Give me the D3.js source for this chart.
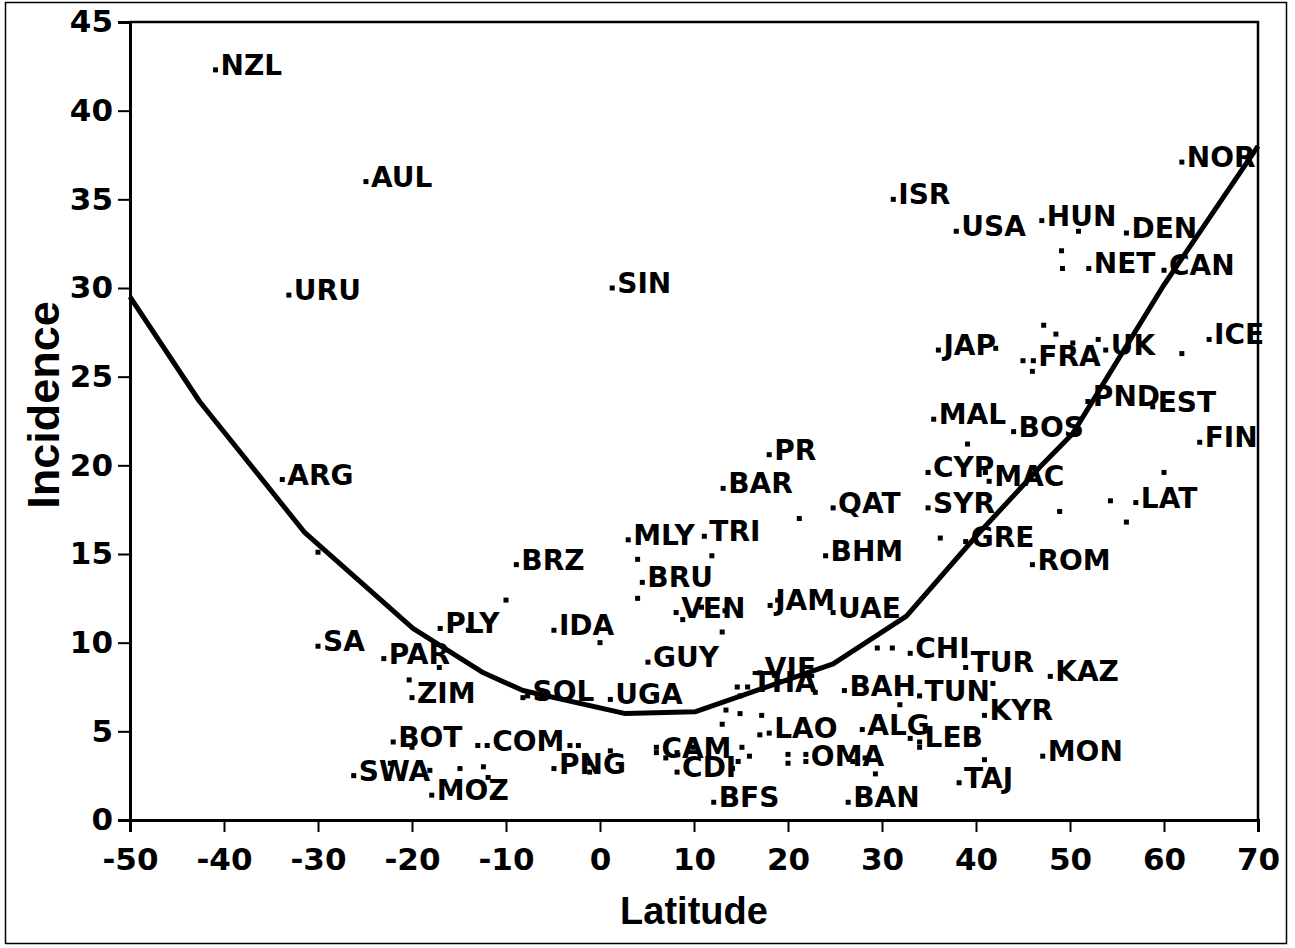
<!DOCTYPE html>
<html>
<head>
<meta charset="utf-8">
<script src="https://cdn.jsdelivr.net/npm/d3@7"></script>
<style>
  body { margin: 0; background: #fff; }
  text { font-weight: bold; fill: #000; }
</style>
</head>
<body>
<div id="chart"></div>
<script>
// country codes, "" for points without a label
const countries = [
  "NZL","AUL","URU","SIN","ARG","NOR","ISR","USA","HUN","DEN","NET","CAN","ICE","JAP","FRA","UK",
  "PND","EST","MAL","BOS","FIN","PR","CYP","MAC","BAR","QAT","SYR","LAT","MLY","TRI","GRE","BHM",
  "ROM","BRZ","BRU","JAM","VEN","UAE","PLY","IDA","SA","CHI","PAR","GUY","TUR","VIE","KAZ","THA",
  "BAH","TUN","SOL","ZIM","UGA","KYR","ALG","LAO","LEB","BOT","COM","CAM","MON","OMA","PNG","CDI",
  "SWA","TAJ","MOZ","BFS","BAN",
  "","","","","","","","","","","","","","","","","","","","","","","","","","","","","","","","","","","",
  "","","","","","","","","","","","","","","","","","","","","","","","","","","","","","","","","","","","","",""
]
const latitude = [
  -40.9,-24.9,-33.1,1.3,-33.8,61.9,31.2,37.9,47.0,56.0,52.0,60.0,64.8,36.0,46.1,53.8,
  51.9,58.8,35.5,44.0,63.8,18.0,34.9,41.4,13.1,24.8,34.9,57.0,3.0,11.1,38.9,24.0,
  46.0,-8.9,4.5,18.1,8.1,24.8,-17.0,-4.9,-30.0,33.0,-23.0,5.1,38.9,17.0,47.9,15.7,
  26.0,34.0,-7.7,-20.0,1.1,40.9,27.9,18.0,34.0,-22.0,-12.0,6.0,47.1,21.9,-4.9,8.2,
  -26.2,38.2,-17.9,12.1,26.4,
  -30.0,50.9,49.1,49.2,42.1,47.2,48.5,45.0,46.0,50.3,53.0,61.9,39.1,41.0,60.0,54.3,48.9,56.0,36.2,
  21.2,4.0,11.9,-10.0,4.0,8.8,10.8,13.3,13.0,0.0,18.9,29.5,31.1,-14.0,-17.1,-20.3,-8.2,14.6,14.9,
  22.9,13.4,14.9,17.2,13.0,17.0,31.9,41.8,33.0,34.0,40.9,-20.0,-13.0,-3.2,-2.3,-22.3,-18.1,-14.9,
  -12.4,-11.9,-1.1,1.1,-1.1,6.0,7.0,8.2,9.9,15.1,15.9,14.7,14.1,20.0,20.0,21.9,26.9,28.2,29.3
]
const incidence = [
  42.3,36.0,29.6,30.0,19.2,37.1,35.0,33.2,33.8,33.1,31.1,31.0,27.1,26.5,25.9,26.5,
  23.6,23.3,22.6,21.9,21.3,20.6,19.6,19.1,18.7,17.6,17.6,17.9,15.8,16.0,15.7,14.9,
  14.4,14.4,13.4,12.1,11.7,11.7,10.8,10.7,9.8,9.4,9.1,8.9,8.6,8.3,8.1,7.5,
  7.3,7.0,7.0,6.9,6.8,5.9,5.1,4.9,4.4,4.4,4.2,3.8,3.6,3.3,2.9,2.7,
  2.5,2.1,1.4,1.0,1.0,
  15.1,33.2,32.1,31.1,26.6,27.9,27.4,25.9,25.3,26.9,27.1,26.3,21.2,19.6,19.6,18.0,17.4,16.8,15.9,
  17.0,14.7,14.9,12.4,12.5,11.3,12.0,11.8,10.6,10.0,12.4,9.7,9.7,10.7,8.6,7.9,6.9,7.5,7.0,
  7.2,6.2,6.0,5.9,5.4,4.8,6.5,7.7,4.6,4.1,3.4,4.1,4.2,4.2,4.2,3.2,2.8,2.9,
  3.0,2.4,3.2,3.9,2.7,4.1,3.5,3.8,4.1,4.1,3.6,3.3,2.9,3.7,3.2,3.7,3.3,3.5,2.6
]

// fitted curve, vertices
const curveLat = [-50, -42.6, -31.4, -19.9, -12.4, -8.2, 2.7, 10.1, 24.8, 32.6, 40, 46.8, 50.3, 59.9, 70]
const curveInc = [29.5, 23.6, 16.2, 10.8, 8.3, 7.3, 6.0, 6.1, 8.8, 11.5, 16.0, 19.9, 21.8, 30.1, 38.0]

const xTicks = [-50, -40, -30, -20, -10, 0, 10, 20, 30, 40, 50, 60, 70]
const yTicks = [0, 5, 10, 15, 20, 25, 30, 35, 40, 45]

let width = 1295
let height = 948
let margin = {left: 130, right: 37, top: 22, bottom: 128}
let wide = "'DejaVu Sans', Verdana, sans-serif"
let arial = "'Liberation Sans', Arial, sans-serif"

let svg = d3.select("#chart")
  .append("svg")
  .attr("width", width)
  .attr("height", height)

// outer frame of the figure
svg.append("rect")
  .attr("x", 5.5).attr("y", 2.5)
  .attr("width", 1281).attr("height", 941)
  .attr("fill", "none")
  .attr("stroke", "#000")
  .attr("stroke-width", 1.5)

let x = d3.scaleLinear().domain([-50, 70]).range([margin.left, width - margin.right])
let y = d3.scaleLinear().domain([0, 45]).range([height - margin.bottom, margin.top])

// plot box (top and right sides)
svg.append("path")
  .attr("d", `M${x(-50)},${y(45)}H${x(70)}V${y(0)}`)
  .attr("fill", "none")
  .attr("stroke", "#000")
  .attr("stroke-width", 2.5)

let fmt = d => String(d)   // plain hyphen for negatives

let xAxis = svg.append("g")
  .attr("transform", `translate(0,${y(0)})`)
  .call(d3.axisBottom(x).tickValues(xTicks).tickSize(12).tickPadding(16).tickFormat(fmt))
let yAxis = svg.append("g")
  .attr("transform", `translate(${x(-50)},0)`)
  .call(d3.axisLeft(y).tickValues(yTicks).tickSize(12).tickPadding(5).tickFormat(fmt))

;[xAxis, yAxis].forEach(a => {
  a.select(".domain").attr("stroke-width", 3)
  a.selectAll(".tick line").attr("stroke-width", 2)
  a.selectAll(".tick text")
    .style("font-size", "31px")
    .style("font-family", wide)
    .style("font-weight", "bold")
    .attr("fill", "#000")
})

// axis titles
svg.append("text")
  .attr("x", x(10))
  .attr("y", 924)
  .attr("text-anchor", "middle")
  .style("font-family", arial)
  .style("font-size", "38px")
  .text("Latitude")

svg.append("text")
  .attr("transform", `translate(59,${y(23.4)}) rotate(-90)`)
  .attr("text-anchor", "middle")
  .style("font-family", arial)
  .style("font-size", "45px")
  .text("Incidence")

// fitted curve
let line = d3.line()
  .x((d, i) => x(curveLat[i]))
  .y((d, i) => y(curveInc[i]))

svg.append("path")
  .attr("d", line(curveLat))
  .attr("fill", "none")
  .attr("stroke", "#000")
  .attr("stroke-width", 5)
  .attr("stroke-linejoin", "round")

// points and labels
let idx = d3.range(latitude.length)

svg.append("g")
  .selectAll("rect")
  .data(idx)
  .enter()
  .append("rect")
    .attr("x", i => x(latitude[i]) - 2.5)
    .attr("y", i => y(incidence[i]) - 2.5)
    .attr("width", 5)
    .attr("height", 5)
    .attr("fill", "#000")

svg.append("g")
  .selectAll("text")
  .data(idx.filter(i => countries[i]))
  .enter()
  .append("text")
    .attr("x", i => x(latitude[i]) + 5)
    .attr("y", i => y(incidence[i]) + 5)
    .style("font-family", wide)
    .style("font-size", "28px")
    .text(i => countries[i])
</script>
</body>
</html>
